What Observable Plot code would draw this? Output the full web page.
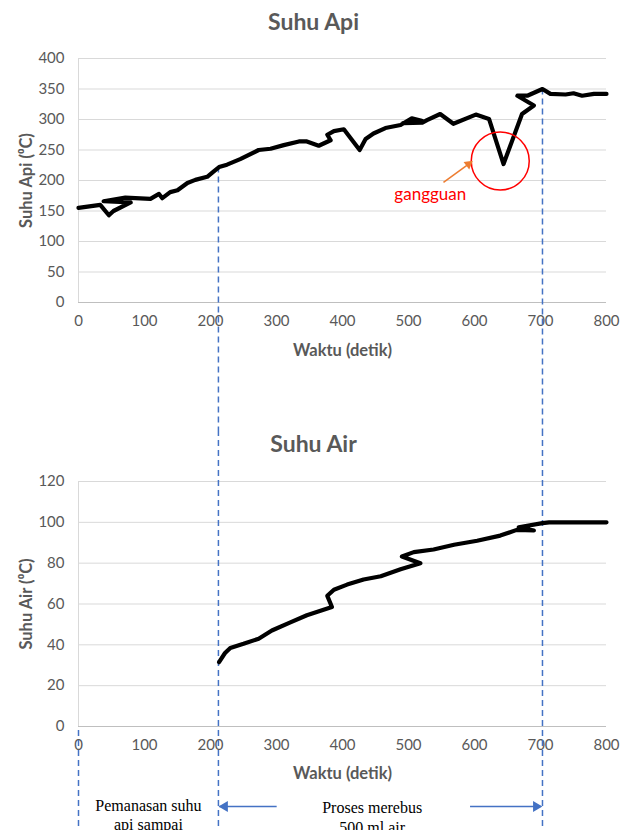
<!DOCTYPE html>
<html><head><meta charset="utf-8">
<script src="https://cdn.jsdelivr.net/npm/d3@7"></script>
<script src="https://cdn.jsdelivr.net/npm/@observablehq/plot@0.6"></script>
<style>
body{margin:0;background:#fff;}
#wrap{width:629px;}
svg{display:block;overflow:visible}
</style>
</head><body><div id="wrap"></div>
<script>
// ---- data ----
const apiTime = [0,33,46,53,79,38,71,109,122,127,139,150,165,177,195,205,213,225,245,273,291,311,334,346,364,382,377,387,402,426,435,447,465,488,505,520,492,521,528,548,568,602,622,644,672,690,665,680,703,715,738,750,763,781,800];
const apiTemp = [155,160,143,150,164,166,172,170,178,171,181,184,196,201,206,215,222,226,235,250,252,258,264,264,257,266,275,281,284,250,268,277,286,291,302,298,294,295,299,309,293,308,301,227,309,323,339,339,350,342,341,343,339,342,342];

const airTime = [213,222,230,250,273,293,321,346,384,377,387,407,432,458,488,518,490,508,538,569,604,639,664,690,667,703,713,800];
const airTemp = [31.5,36,38.5,40.5,43,47,51,54.5,58.5,64,67,69.5,72,73.6,77,80,83.3,85.4,86.7,89,91,93.5,96.3,96,97.6,99.6,100,100];

const xTicks = [0,100,200,300,400,500,600,700,800];
const apiTicks = [0,50,100,150,200,250,300,350,400];
const airTicks = [0,20,40,60,80,100,120];

const phaseTimes = [212, 703];        // phase boundaries (detik)
const phaseApiValues = [222, 350];    // Suhu Api where the boundary lines start
const phaseLabels = ["Pemanasan suhu\napi sampai", "Proses merebus\n500 ml air"];
const phaseLabelTimes = [106, 445];
const arrowFrom = [301, 594];
const arrowTo = [214, 701];

const gangguan = {label: "gangguan", lt: 533, lv: 177, cx: 639, cy: 232, ax1: 553, ay1: 197, ax2: 591, ay2: 227};

// ---- tables ----
const apiData = apiTime.map((t, i) => ({t, v: apiTemp[i]}));
const airData = airTime.map((t, i) => ({t, v: airTemp[i]}));
const phases = phaseTimes.map((t, i) => ({t, api: phaseApiValues[i]}));
const arrows = arrowFrom.map((f, i) => ({from: f, to: arrowTo[i], rot: i === 0 ? -90 : 90}));

// ---- style ----
const W = 629, ML = 78, MR = 23;
const gray = "#595959", gridC = "#d9d9d9", axisC = "#bfbfbf", blue = "#4472c4";
const dash = {stroke: blue, strokeWidth: 1.5, strokeDasharray: "6,4"};
const font = "Lato, 'Open Sans', sans-serif";
const serif = "'Liberation Serif', 'Times New Roman', serif";
const base = {fontFamily: font, fontSize: "15px", color: gray, background: "#fff", overflow: "visible"};
const mid = {textAnchor: "middle", lineAnchor: "middle"};

// ---- top chart ----
const topH = 430, topMT = 58, topMB = 128;
const topChart = Plot.plot({
  width: W, height: topH, marginLeft: ML, marginRight: MR, marginTop: topMT, marginBottom: topMB,
  style: base,
  x: {domain: [0, 800]},
  y: {domain: [0, 400]},
  marks: [
    Plot.gridY(apiTicks, {stroke: gridC, strokeOpacity: 1}),
    Plot.ruleX([0], {stroke: gridC}),
    Plot.ruleY([0], {stroke: axisC}),
    Plot.axisX(xTicks, {tickSize: 0, tickPadding: 13, label: null}),
    Plot.axisY(apiTicks, {tickSize: 0, tickPadding: 14, label: null}),
    Plot.ruleX(phases, {x: "t", y1: "api", y2: () => 0, insetBottom: -topMB, ...dash}),
    Plot.line(apiData, {x: "t", y: "v", stroke: "black", strokeWidth: 4.2, strokeLinejoin: "round", strokeLinecap: "round"}),
    Plot.dot([gangguan], {x: "cx", y: "cy", r: 29, stroke: "#ff0000", fill: "none", strokeWidth: 1.5}),
    Plot.link([gangguan], {x1: "ax1", y1: "ay1", x2: "ax2", y2: "ay2", stroke: "#ed7d31", strokeWidth: 1.5}),
    Plot.dot([gangguan], {x: "ax2", y: "ay2", symbol: "triangle", r: 3.5, rotate: 53, fill: "#ed7d31", stroke: "none"}),
    Plot.text([gangguan], {x: "lt", y: "lv", text: "label", fill: "#ff0000", fontSize: 17, ...mid}),
    Plot.text(["Suhu Api"], {frameAnchor: "top", dx: -29, dy: -36, fill: gray, fontSize: 23, fontWeight: "bold", ...mid}),
    Plot.text(["Waktu (detik)"], {frameAnchor: "bottom", dy: 48, fill: gray, fontSize: 16.5, fontWeight: "bold", ...mid}),
    Plot.text(["Suhu Api (⁰C)"], {frameAnchor: "left", dx: -52, rotate: -90, fill: gray, fontSize: 16.5, fontWeight: "bold", ...mid})
  ]
});

// ---- bottom chart ----
const botH = 420, botMT = 51, botMB = 124;
const botChart = Plot.plot({
  width: W, height: botH, marginLeft: ML, marginRight: MR, marginTop: botMT, marginBottom: botMB,
  style: base,
  x: {domain: [0, 800]},
  y: {domain: [0, 120]},
  marks: [
    Plot.gridY(airTicks, {stroke: gridC, strokeOpacity: 1}),
    Plot.ruleX([0], {stroke: gridC}),
    Plot.ruleY([0], {stroke: axisC}),
    Plot.axisX(xTicks, {tickSize: 0, tickPadding: 13, label: null}),
    Plot.axisY(airTicks, {tickSize: 0, tickPadding: 14, label: null}),
    Plot.ruleX(phaseTimes, {insetTop: -botMT, insetBottom: -botMB, ...dash}),
    Plot.ruleX([0], {y1: () => 0, y2: () => 0, insetTop: 4, insetBottom: -botMB, ...dash}),
    Plot.line(airData, {x: "t", y: "v", stroke: "black", strokeWidth: 4.2, strokeLinejoin: "round", strokeLinecap: "round"}),
    Plot.ruleY(arrows, {x1: "from", x2: "to", y: () => 0, dy: 80, stroke: blue, strokeWidth: 1.5}),
    Plot.dot(arrows.slice(0, 1), {x: "to", y: () => 0, dy: 80, dx: 5, symbol: "triangle", r: 4, rotate: "rot", fill: blue, stroke: "none"}),
    Plot.dot(arrows.slice(1), {x: "to", y: () => 0, dy: 80, dx: -5, symbol: "triangle", r: 4, rotate: "rot", fill: blue, stroke: "none"}),
    Plot.text([phaseLabels[0]], {x: () => phaseLabelTimes[0], frameAnchor: "bottom", dy: 88, lineHeight: 1.16, fill: "black", fontFamily: serif, fontSize: 16, ...mid}),
    Plot.text([phaseLabels[1]], {x: () => phaseLabelTimes[1], frameAnchor: "bottom", dy: 90, lineHeight: 1.29, fill: "black", fontFamily: serif, fontSize: 16, ...mid}),
    Plot.text(["Suhu Air"], {frameAnchor: "top", dx: -29, dy: -37, fill: gray, fontSize: 23, fontWeight: "bold", ...mid}),
    Plot.text(["Waktu (detik)"], {frameAnchor: "bottom", dy: 47, fill: gray, fontSize: 16.5, fontWeight: "bold", ...mid}),
    Plot.text(["Suhu Air (⁰C)"], {frameAnchor: "left", dx: -52, rotate: -90, fill: gray, fontSize: 16.5, fontWeight: "bold", ...mid})
  ]
});

const wrap = document.getElementById("wrap");
wrap.appendChild(topChart);
wrap.appendChild(botChart);
</script>
</body></html>
